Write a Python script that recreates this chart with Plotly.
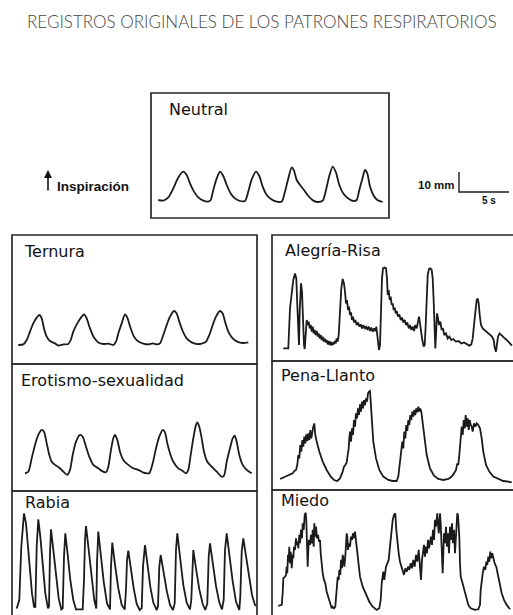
import plotly.graph_objects as go

W, H = 513, 615

# ---------------- recorded breathing traces: time (s) / chest expansion (mm) ----------------
neutral_t = [1.83, 2.33, 2.83, 3.33, 3.83, 4.33, 4.67, 5.0, 5.4, 5.83, 6.33, 6.83, 7.07, 7.33, 7.67, 8.0,
             8.33, 8.67, 9.07, 9.5, 10.0, 10.5, 10.83, 11.17, 11.6, 11.93, 12.27, 12.67, 13.17, 13.67,
             14.17, 14.5, 14.83, 15.17, 15.4, 15.67, 16.0, 16.4, 16.83, 17.33, 17.83, 18.27, 18.6, 18.93,
             19.27, 19.6, 19.93, 20.33, 20.83, 21.33, 21.67, 21.93, 22.27, 22.5, 22.73, 23.0, 23.33,
             23.73, 24.27]
neutral_mm = [1.0, 0.7, 2.3, 6.8, 12.3, 15.2, 13.5, 9.3, 5.2, 2.3, 0.7, 0.2, 1.0, 6.0, 11.8, 15.2,
              13.0, 8.5, 4.3, 1.8, 0.5, 0.5, 5.2, 11.3, 15.2, 13.0, 7.7, 3.5, 1.3, 0.2,
              0.2, 5.2, 11.8, 17.3, 15.7, 11.0, 8.5, 6.0, 3.0, 0.7, 0, 0.7, 6.0, 13.0,
              17.7, 14.7, 8.5, 4.3, 1.8, 0.5, 1.0, 6.0, 12.3, 16.0, 14.3, 7.7, 3.5,
              1.0, 0]

ternura_t = [1.83, 2.33, 2.67, 3.0, 3.33, 3.67, 3.93, 4.17, 4.4, 4.67, 5.0, 5.5, 5.83, 6.33, 6.83, 7.07,
             7.33, 7.73, 8.17, 8.4, 8.67, 9.0, 9.4, 9.83, 10.33, 10.83, 11.33, 11.6, 11.83, 12.17,
             12.5, 12.73, 13.07, 13.4, 13.83, 14.33, 14.83, 15.27, 15.67, 16.0, 16.33, 16.67, 17.0,
             17.4, 17.67, 17.93, 18.27, 18.67, 19.17, 19.67, 20.17, 20.6, 20.93, 21.27, 21.6, 22.0,
             22.27, 22.5, 22.83, 23.27, 23.73, 24.27, 24.83]
ternura_mm = [-0.5, -0.2, 2.0, 6.2, 10.3, 13.2, 14.5, 12.8, 7.8, 3.7, 1.5, 0.3, -0.8, -0.2, 0, 2.0,
              6.2, 10.3, 13.7, 14.8, 12.8, 7.8, 3.2, 0.8, 0, 0.2, -0.5, 1.2, 5.3, 10.3,
              14.8, 13.2, 7.8, 3.7, 1.2, 0.2, -0.2, 0.3, -0.2, 0.3, 4.5, 9.5, 13.7,
              16.5, 15.3, 11.2, 6.5, 2.8, 0.8, 0, 0.2, 1.2, 4.5, 9.5, 13.7, 16.5,
              15.3, 11.2, 6.2, 2.8, 1.2, 0.5, 0.8]

erotismo_t = [2.5, 2.83, 3.17, 3.5, 3.83, 4.17, 4.4, 4.67, 4.93, 5.17, 5.5, 5.93, 6.33, 6.73, 7.0, 7.27,
              7.6, 8.0, 8.27, 8.6, 8.93, 9.33, 9.83, 10.17, 10.6, 10.83, 11.07, 11.33, 11.5, 11.73,
              12.0, 12.33, 12.83, 13.33, 13.83, 14.27, 14.67, 14.93, 15.27, 15.6, 15.93, 16.27, 16.5,
              16.73, 17.0, 17.33, 17.83, 18.27, 18.6, 18.83, 19.07, 19.33, 19.6, 19.73, 19.93, 20.17,
              20.4, 20.73, 21.17, 21.67, 22.17, 22.4, 22.67, 23.0, 23.27, 23.47, 23.67, 23.93, 24.27,
              24.67, 25.17]
erotismo_mm = [0, 0.8, 7.5, 14.2, 19.2, 21.7, 20.8, 15.0, 9.2, 5.8, 4.2, 2.8, 0.8, -0.8, 1.7, 9.2,
               15.8, 19.2, 18.3, 13.3, 8.3, 4.2, 2.5, 1.2, 0.5, 3.3, 10.8, 17.5, 19.2, 16.7,
               10.8, 6.7, 4.2, 2.5, 1.7, 0.5, 0, 0, 5.0, 12.5, 18.3, 21.7, 20.5,
               15.0, 10.0, 5.8, 2.5, 1.2, 0, 1.7, 9.2, 17.5, 24.2, 25.5, 23.3, 17.5,
               10.8, 5.8, 3.3, 0.8, -1.7, -1.2, 5.8, 12.5, 17.5, 18.8, 15.8, 9.2, 4.2,
               1.7, 0]

rabia_t = [1.67, 1.93, 2.13, 2.4, 2.6, 2.8, 3.0, 3.2, 3.4,
           3.53, 3.67, 3.83, 4.03, 4.27, 4.53, 4.8,
           4.9, 5.0, 5.1, 5.33, 5.6, 5.87, 6.13,
           6.27, 6.4, 6.53, 6.77, 7.03, 7.33, 7.6, 8.27,
           8.4, 8.5, 8.6, 8.83, 9.13, 9.43, 9.63,
           9.7, 9.83, 10.07, 10.37, 10.7, 11.0,
           11.1, 11.23, 11.5, 11.83, 12.17, 12.47,
           12.6, 12.7, 12.83, 13.07, 13.37, 13.67, 13.97,
           14.17, 14.3, 14.5, 14.73, 15.03, 15.33, 15.67,
           15.8, 15.93, 16.07, 16.33, 16.67, 17.0, 17.3,
           17.47, 17.6, 17.73, 18.0, 18.33, 18.67, 19.0,
           19.13, 19.23, 19.33, 19.6, 19.93, 20.27, 20.53,
           20.73, 20.87, 21.0, 21.27, 21.6, 21.93, 22.2,
           22.37, 22.5, 22.67, 22.93, 23.27, 23.6, 23.93,
           24.03, 24.17, 24.33, 24.57, 24.87, 25.2, 25.5, 25.65]
rabia_mm = [0.3, 4.5, 31.2, 47.8, 42.8, 31.2, 17.8, 7.8, 1.2,
            0.8, 31.2, 44.8, 36.3, 21.2, 7.8, 0.3,
            1.2, 27.8, 39.8, 29.7, 16.2, 5.3, -0.2,
            0.3, 26.2, 37.8, 27.2, 14.5, 4.5, -0.2, -0.2,
            14.5, 34.5, 41.5, 31.3, 16.2, 4.5, 0.2,
            22.8, 38.7, 28.0, 13.7, 2.8, -0.2,
            21.2, 33.2, 22.2, 10.3, 2.0, -0.2,
            9.5, 24.5, 29.2, 20.3, 10.3, 2.5, -0.5,
            0.3, 21.2, 32.0, 22.2, 11.2, 3.2, -0.5,
            1.2, 21.2, 27.0, 18.7, 9.2, 2.0, -0.5,
            2.8, 29.5, 37.8, 25.3, 12.0, 3.2, -0.2,
            4.5, 24.5, 29.5, 20.3, 9.8, 2.5, -0.5,
            2.8, 26.2, 32.8, 22.8, 11.5, 3.2, -0.2,
            4.5, 29.5, 37.8, 26.5, 13.7, 3.7, -0.5,
            6.2, 28.7, 35.3, 27.2, 16.2, 7.0, 2.0, 1.5]

alegria_t = [2.33, 2.83, 3.0, 3.17, 3.33, 3.5, 3.63, 3.73, 3.83, 3.9, 3.97, 4.03, 4.1, 4.2, 4.3, 4.4,
             4.47, 4.57, 4.67, 4.77, 4.87, 4.97, 5.07, 5.17, 5.27, 5.37, 5.47, 5.57, 5.67, 5.77, 5.87,
             5.97, 6.07, 6.17, 6.27, 6.37, 6.47, 6.57, 6.67, 6.77, 6.87, 6.97, 7.07, 7.17, 7.27, 7.37,
             7.47, 7.57, 7.67, 7.77, 7.87, 8.0, 8.13, 8.27, 8.4, 8.5, 8.6, 8.7, 8.8, 8.9, 9.0, 9.1,
             9.2, 9.3, 9.4, 9.53, 9.67, 9.8, 9.93, 10.07, 10.2, 10.33, 10.47, 10.6, 10.73, 10.87, 11.0,
             11.13, 11.27, 11.4, 11.53, 11.63, 11.73, 11.8, 11.9, 12.0, 12.1, 12.2, 12.3, 12.47, 12.6,
             12.7, 12.77, 12.87, 12.97, 13.07, 13.17, 13.27, 13.37, 13.47, 13.57, 13.67, 13.8, 13.93,
             14.07, 14.2, 14.33, 14.47, 14.6, 14.73, 14.87, 15.0, 15.13, 15.27, 15.4, 15.53, 15.67,
             15.8, 15.9, 16.0, 16.1, 16.23, 16.37, 16.47, 16.57, 16.67, 16.77, 16.9, 17.03, 17.17,
             17.27, 17.37, 17.47, 17.53, 17.6, 17.7, 17.8, 17.9, 18.03, 18.17, 18.3, 18.43, 18.6,
             18.77, 18.93, 19.13, 19.33, 19.6, 19.87, 20.13, 20.4, 20.67, 20.93, 21.13, 21.27, 21.4,
             21.53, 21.67, 21.77, 21.87, 21.97, 22.1, 22.27, 22.47, 22.67, 22.93, 23.2, 23.37, 23.47,
             23.6, 23.7, 23.8, 23.97, 24.17, 24.4, 24.67, 24.93, 25.2]
alegria_mm = [0.8, 0.8, 20.8, 30.0, 35.0, 38.3, 35.8, 22.5, 5.8, 2.5, 19.2, 30.8, 33.3, 29.2, 14.2, 2.5,
              0.5, 10.8, 15.0, 12.5, 14.2, 10.8, 12.5, 9.2, 11.7, 8.3, 10.0, 7.5, 9.5, 6.7, 8.3,
              5.8, 7.5, 5.0, 6.7, 4.2, 5.8, 3.8, 5.0, 2.8, 4.5, 2.5, 4.2, 2.2, 3.8, 2.8,
              4.5, 3.3, 5.8, 4.2, 7.5, 19.2, 30.8, 35.5, 33.3, 29.2, 23.3, 25.0, 20.0, 21.7, 17.5, 18.8,
              15.0, 16.7, 13.8, 15.0, 12.5, 13.8, 11.7, 12.8, 10.8, 12.5, 10.5, 12.0, 10.0, 11.7, 9.5,
              11.2, 9.2, 10.8, 9.5, 11.7, 7.5, 2.5, 0, 2.5, 20.8, 35.8, 40.8, 41.2, 40.8,
              35.8, 27.5, 30.0, 25.0, 26.7, 22.5, 23.3, 20.0, 21.2, 18.3, 19.5, 16.7, 17.8,
              15.0, 16.2, 13.8, 15.0, 12.5, 13.8, 10.8, 12.5, 10.0, 11.7, 9.5, 12.5, 10.8,
              14.2, 16.7, 13.3, 9.2, 5.0, 1.7, 2.5, 12.5, 29.2, 37.5, 40.5, 40.8, 40.0,
              35.8, 24.2, 9.2, 0.8, 7.5, 18.3, 15.8, 12.5, 14.2, 10.0, 10.8, 7.5, 8.3,
              5.8, 6.7, 5.0, 5.5, 4.2, 4.5, 3.3, 3.8, 2.8, 2.2, 2.8, 5.8, 12.5,
              20.0, 25.0, 25.8, 23.3, 17.5, 12.5, 10.8, 10.0, 9.2, 7.8, 6.7, 5.0, 1.2,
              -0.8, 2.5, 6.7, 8.3, 7.5, 6.2, 5.0, 3.8, 2.2]

pena_t = [2.0, 2.33, 2.67, 3.0, 3.27, 3.43, 3.6, 3.73, 3.83, 3.93, 4.03, 4.13, 4.23, 4.33, 4.43, 4.53,
          4.63, 4.73, 4.83, 4.93, 5.03, 5.13, 5.23, 5.33, 5.43, 5.53, 5.67, 5.93, 6.27, 6.67, 7.07,
          7.4, 7.73, 8.0, 8.27, 8.4, 8.53, 8.67, 8.77, 8.87, 8.93, 9.0, 9.1, 9.2, 9.3, 9.4, 9.5,
          9.6, 9.7, 9.8, 9.9, 10.0, 10.1, 10.2, 10.3, 10.4, 10.5, 10.6, 10.7, 10.8, 10.9, 11.0,
          11.07, 11.17, 11.33, 11.6, 11.93, 12.33, 12.83, 13.27, 13.67, 13.83, 13.93, 14.03, 14.13,
          14.23, 14.33, 14.43, 14.53, 14.63, 14.73, 14.83, 14.93, 15.03, 15.13, 15.23, 15.33, 15.43,
          15.53, 15.63, 15.73, 15.83, 15.93, 16.03, 16.13, 16.23, 16.4, 16.67, 17.0, 17.4, 17.83,
          18.33, 18.83, 19.17, 19.4, 19.6, 19.73, 19.83, 19.93, 20.0, 20.07, 20.17, 20.27, 20.37,
          20.47, 20.57, 20.67, 20.77, 20.87, 20.97, 21.07, 21.17, 21.27, 21.4, 21.53, 21.67, 21.83,
          22.0, 22.17, 22.33, 22.6, 22.93, 23.33, 23.83, 24.33, 24.83, 25.17]
pena_mm = [1.0, 1.7, 2.7, 3.0, 3.8, 5.0, 5.5, 8.0, 13.0, 11.3, 18.0, 14.7, 20.5, 17.2, 22.2, 18.8,
           23.3, 20.0, 23.8, 20.5, 25.5, 21.3, 24.7, 27.2, 28.8, 23.0, 19.7, 14.7, 9.7, 5.5, 2.2,
           0.5, 0, 1.3, 4.7, 7.2, 8.0, 9.3, 13.0, 16.3, 21.3, 24.7, 19.7, 26.3, 23.0, 30.5, 27.2,
           33.8, 31.3, 36.3, 33.0, 38.3, 34.7, 39.7, 36.3, 40.5, 38.0, 41.3, 39.7, 43.8, 44.7, 45.0,
           39.7, 29.7, 19.7, 11.3, 5.5, 2.2, 0.5, 0, 0, 2.2, 6.3, 11.3, 14.7,
           19.7, 16.3, 24.7, 21.3, 28.0, 25.0, 30.5, 28.0, 33.0, 30.5, 34.7, 32.2, 35.5,
           33.0, 36.3, 34.3, 37.2, 34.7, 36.3, 34.7, 30.5, 21.3, 13.0, 6.3, 2.7, 1.0,
           0.5, 1.0, 2.2, 3.8, 5.5, 8.8, 8.0, 13.0, 18.0, 23.0, 27.2, 23.0, 30.5,
           26.3, 33.0, 27.2, 31.3, 25.5, 30.5, 28.0, 27.2, 24.7, 28.8, 27.2, 28.8, 28.0,
           26.3, 21.3, 14.7, 8.0, 4.7, 2.2, 1.0, 0, -0.3, -0.7]

miedo_t = [1.83, 2.17, 2.27, 2.33, 2.5, 2.6, 2.67, 2.73, 2.8, 2.87, 2.93, 3.0, 3.07, 3.17, 3.27, 3.33,
           3.4, 3.5, 3.6, 3.67, 3.77, 3.83, 3.93, 4.0, 4.1, 4.2, 4.27, 4.37, 4.47, 4.57, 4.63, 4.7,
           4.77, 4.83, 4.9, 5.0, 5.1, 5.2, 5.27, 5.37, 5.43, 5.53, 5.6, 5.7, 5.8, 5.9, 6.0, 6.07,
           6.17, 6.27, 6.4, 6.53, 6.67, 6.8, 6.93, 7.07, 7.17, 7.27, 7.4, 7.53, 7.6, 7.67, 7.77,
           7.87, 7.93, 8.03, 8.1, 8.2, 8.27, 8.37, 8.43, 8.53, 8.6, 8.67, 8.73, 8.8, 8.9, 9.0, 9.1,
           9.2, 9.3, 9.4, 9.5, 9.6, 9.67, 9.83, 10.0, 10.27, 10.6, 10.93, 11.27, 11.67, 11.93, 12.07,
           12.17, 12.27, 12.33, 12.43, 12.5, 12.6, 12.73, 12.87, 13.0, 13.13, 13.27, 13.4, 13.53,
           13.63, 13.73, 13.87, 14.0, 14.13, 14.27, 14.4, 14.53, 14.67, 14.8, 14.93, 15.07, 15.2,
           15.33, 15.47, 15.6, 15.73, 15.87, 16.0, 16.1, 16.2, 16.3, 16.4, 16.5, 16.6, 16.7, 16.8,
           16.9, 17.0, 17.1, 17.2, 17.3, 17.4, 17.5, 17.6, 17.67, 17.73, 17.8, 17.87, 17.93, 18.0,
           18.07, 18.13, 18.2, 18.27, 18.33, 18.4, 18.5, 18.6, 18.7, 18.8, 18.9, 19.0, 19.1, 19.2,
           19.3, 19.4, 19.5, 19.6, 19.67, 19.73, 19.8, 19.87, 19.93, 20.0, 20.07, 20.17, 20.33,
           20.5, 20.67, 20.83, 21.07, 21.5, 21.83, 22.0, 22.07, 22.17, 22.27, 22.4, 22.53, 22.63,
           22.73, 22.83, 22.93, 23.03, 23.13, 23.23, 23.33, 23.43, 23.53, 23.63, 23.73, 23.87, 24.0,
           24.17, 24.4, 24.67, 25.0]
miedo_mm = [1.7, 2.2, 8.0, 15.5, 16.3, 17.2, 21.3, 18.0, 27.2, 23.8, 31.3, 23.0, 28.8, 20.5, 27.2, 25.5,
            31.3, 29.7, 35.5, 32.2, 33.8, 30.5, 37.2, 33.0, 39.7, 35.5, 43.0, 39.7, 47.2, 48.3, 44.7, 31.3,
            21.3, 29.7, 34.7, 32.2, 37.2, 33.0, 39.7, 31.3, 43.0, 36.3, 41.3, 35.5, 37.2, 33.8, 34.7, 28.0,
            21.3, 18.0, 14.7, 13.0, 8.8, 6.3, 4.7, 2.2, 0.5, 1.3, 0.5, 1.3, 4.7, 11.3, 16.3,
            14.7, 19.7, 17.2, 24.7, 20.5, 27.2, 24.7, 21.3, 26.3, 31.3, 38.0, 36.3, 29.7, 33.0, 31.3, 36.3,
            34.7, 38.0, 35.5, 38.8, 33.8, 29.7, 23.0, 16.3, 11.3, 7.2, 3.8, 1.3, -0.3, 0.5, 4.7,
            13.0, 16.3, 18.8, 14.7, 18.0, 21.3, 23.0, 24.7, 31.3, 38.0, 44.7, 47.2, 48.0,
            39.7, 33.0, 28.0, 23.8, 21.3, 19.7, 17.2, 20.5, 18.8, 21.3, 19.7, 23.0, 20.5,
            24.7, 21.3, 27.2, 23.8, 29.7, 18.0, 14.7, 24.7, 28.8, 32.2, 26.3, 31.3, 28.0, 34.7,
            30.5, 33.0, 36.3, 32.2, 39.7, 34.7, 44.7, 41.3, 47.2, 48.0, 43.0, 38.0, 41.3, 48.0,
            43.0, 33.0, 23.0, 18.0, 28.0, 38.0, 33.0, 41.3, 31.3, 38.0, 28.0, 41.3, 34.7, 43.0,
            33.0, 39.7, 28.0, 38.0, 44.7, 48.0, 47.2, 41.3, 36.3, 23.0, 16.3, 14.7, 11.3,
            8.0, 4.7, 2.2, 0.5, -0.3, 0, 2.2, 9.7, 14.7, 18.0, 21.3, 19.7, 23.8,
            22.2, 26.3, 23.8, 28.8, 25.5, 28.0, 24.7, 23.8, 22.2, 21.3, 18.8, 14.7, 11.3,
            8.0, 4.7, 2.2, 0]

# scale bar: 10 mm vertical, 5 s horizontal
scale_t = [0, 0, 5]
scale_mm = [10, 0, 0]

# ---------------- page layout (pixels) ----------------
PX_PER_S = 10.0
PX_PER_MM = 2.0
LINE = "#1b1b1b"
FRAME = "#2a2a2a"
LABEL_FONT = dict(family="DejaVu Sans", size=16, color="#111111")

# box = (left, top, right, bottom); origin = page pixel of t=0 s, 0 mm
panels = [
    dict(name="Neutral", box=(151, 93, 389, 218), origin=(140, 202), label=(167, 109),
         t=neutral_t, v=neutral_mm, shape="spline"),
    dict(name="Ternura", box=(12, 235, 257, 364), origin=(0, 344), label=(22, 251),
         t=ternura_t, v=ternura_mm, shape="spline"),
    dict(name="Erotismo-sexualidad", box=(12, 364, 257, 491), origin=(0, 473.3), label=(19, 380),
         t=erotismo_t, v=erotismo_mm, shape="spline"),
    dict(name="Rabia", box=(12, 491, 257, 640), origin=(0, 609), label=(23, 502),
         t=rabia_t, v=rabia_mm, shape="linear"),
    dict(name="Alegría-Risa", box=(272, 235, 530, 361), origin=(260, 350), label=(283, 250),
         t=alegria_t, v=alegria_mm, shape="linear"),
    dict(name="Pena-Llanto", box=(272, 361, 530, 490), origin=(260, 481), label=(279, 375),
         t=pena_t, v=pena_mm, shape="linear"),
    dict(name="Miedo", box=(272, 490, 530, 640), origin=(260, 609.3), label=(279, 501),
         t=miedo_t, v=miedo_mm, shape="linear"),
]


def px(x):
    return x / W


def py(y):
    return 1 - y / H


fig = go.Figure()
layout_axes = {}
shapes = []
annotations = []

for i, p in enumerate(panels, start=1):
    left, top, right, bottom = p["box"]
    ox, oy = p["origin"]
    r_vis = min(right, W)
    b_vis = min(bottom, H)
    xa = "xaxis" if i == 1 else f"xaxis{i}"
    ya = "yaxis" if i == 1 else f"yaxis{i}"
    layout_axes[xa] = dict(domain=[px(left), px(r_vis)],
                           range=[(left - ox) / PX_PER_S, (r_vis - ox) / PX_PER_S],
                           visible=False, fixedrange=True)
    layout_axes[ya] = dict(domain=[py(b_vis), py(top)],
                           range=[(oy - b_vis) / PX_PER_MM, (oy - top) / PX_PER_MM],
                           visible=False, fixedrange=True)
    line = dict(color=LINE, width=1.8, shape=p["shape"])
    if p["shape"] == "spline":
        line["smoothing"] = 0.7
    fig.add_trace(go.Scatter(x=p["t"], y=p["v"], mode="lines", line=line,
                             xaxis="x" if i == 1 else f"x{i}",
                             yaxis="y" if i == 1 else f"y{i}",
                             hoverinfo="skip", showlegend=False))
    shapes.append(dict(type="rect", xref="paper", yref="paper",
                       x0=px(left), x1=px(right), y0=py(bottom), y1=py(top),
                       line=dict(color=FRAME, width=1.7), fillcolor="rgba(0,0,0,0)"))
    lx, ly = p["label"]
    annotations.append(dict(text=p["name"], x=px(lx), y=py(ly), xref="paper", yref="paper",
                            xanchor="left", yanchor="middle", showarrow=False, font=LABEL_FONT))

# scale bar on its own axis with the same s/mm scale
k = len(panels) + 1
sb_box = (450, 160, 513, 200)
sb_origin = (459, 192)
layout_axes[f"xaxis{k}"] = dict(domain=[px(sb_box[0]), px(sb_box[2])],
                                range=[(sb_box[0] - sb_origin[0]) / PX_PER_S,
                                       (sb_box[2] - sb_origin[0]) / PX_PER_S],
                                visible=False, fixedrange=True)
layout_axes[f"yaxis{k}"] = dict(domain=[py(sb_box[3]), py(sb_box[1])],
                                range=[(sb_origin[1] - sb_box[3]) / PX_PER_MM,
                                       (sb_origin[1] - sb_box[1]) / PX_PER_MM],
                                visible=False, fixedrange=True)
fig.add_trace(go.Scatter(x=scale_t, y=scale_mm, mode="lines",
                         line=dict(color=LINE, width=1.4),
                         xaxis=f"x{k}", yaxis=f"y{k}", hoverinfo="skip", showlegend=False))

bold_small = dict(family="Liberation Sans", size=11.5, color="#111111", weight="bold")
annotations += [
    dict(text="10 mm", x=px(456), y=py(184.5), xref="paper", yref="paper",
         xanchor="right", yanchor="middle", showarrow=False, font=bold_small),
    dict(text="5 s", x=px(489), y=py(200), xref="paper", yref="paper",
         xanchor="center", yanchor="middle", showarrow=False,
         font=dict(family="Liberation Sans", size=10, color="#111111", weight="bold")),
    # inspiration direction arrow
    dict(text="", x=px(48), y=py(170), xref="paper", yref="paper", ax=0, ay=22,
         showarrow=True, arrowhead=2, arrowsize=1, arrowwidth=1.6, arrowcolor="#111111"),
    dict(text="Inspiración", x=px(55), y=py(186), xref="paper", yref="paper",
         xanchor="left", yanchor="middle", showarrow=False,
         font=dict(family="Liberation Sans", size=13.5, color="#111111", weight="bold")),
    dict(text="REGISTROS ORIGINALES DE LOS PATRONES RESPIRATORIOS", x=px(25), y=py(21.5),
         xref="paper", yref="paper", xanchor="left", yanchor="middle", showarrow=False,
         font=dict(family="Lato", size=17, color="#454545", weight=300)),
]

fig.update_layout(width=W, height=H, margin=dict(l=0, r=0, t=0, b=0),
                  paper_bgcolor="white", plot_bgcolor="rgba(0,0,0,0)",
                  shapes=shapes, annotations=annotations, **layout_axes)

fig.write_html("out.html")
